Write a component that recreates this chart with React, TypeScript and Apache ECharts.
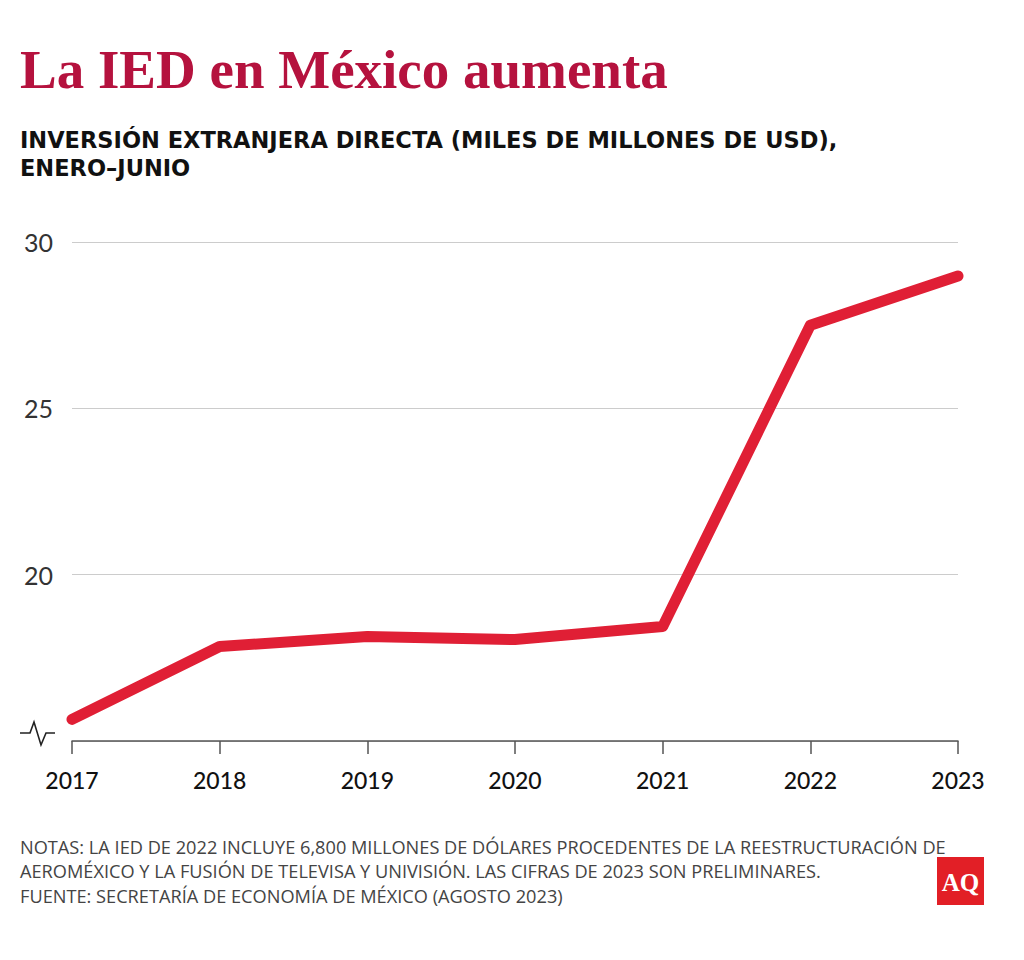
import React, { useEffect, useRef } from "react";
import * as echarts from "echarts";

const years = ["2017", "2018", "2019", "2020", "2021", "2022", "2023"];
const fdiValues = [15.65, 17.84, 18.14, 18.05, 18.44, 27.5, 28.98];
const yTicks = { min: 15, max: 30, interval: 5 };

const titleText = "La IED en México aumenta";
const subtitleLines = [
  "INVERSIÓN EXTRANJERA DIRECTA (MILES DE MILLONES DE USD),",
  "ENERO–JUNIO",
];
const noteLines = [
  "NOTAS: LA IED DE 2022 INCLUYE 6,800 MILLONES DE DÓLARES PROCEDENTES DE LA REESTRUCTURACIÓN DE",
  "AEROMÉXICO Y LA FUSIÓN DE TELEVISA Y UNIVISIÓN. LAS CIFRAS DE 2023 SON PRELIMINARES.",
];
const sourceText = "FUENTE: SECRETARÍA DE ECONOMÍA DE MÉXICO (AGOSTO 2023)";

export default function App() {
  const ref = useRef<HTMLDivElement>(null);

  useEffect(() => {
    if (!ref.current) return;
    const chart = echarts.init(ref.current, null, { renderer: "svg" });
    const notesFont = "18.2px 'Open Sans', Roboto, sans-serif";
    const footerLines = [...noteLines, sourceText];
    const footerTops = [837, 861, 886];
    chart.setOption({
      animation: false,
      backgroundColor: "#ffffff",
      grid: { left: 72, right: 66, top: 242, bottom: 219, containLabel: false },
      xAxis: {
        type: "category",
        data: years,
        boundaryGap: false,
        axisLine: { show: true, lineStyle: { color: "#555555", width: 1.5 } },
        axisTick: { show: true, length: 13, lineStyle: { color: "#555555", width: 1.5 } },
        axisLabel: {
          color: "#111111",
          fontSize: 23,
          fontWeight: 500,
          fontFamily: "Lato, sans-serif",
          margin: 27,
        },
        splitLine: { show: false },
      },
      yAxis: {
        type: "value",
        min: yTicks.min,
        max: yTicks.max,
        interval: yTicks.interval,
        axisLine: { show: false },
        axisTick: { show: false },
        axisLabel: {
          color: "#333333",
          fontSize: 25,
          fontFamily: "Lato, sans-serif",
          margin: 19,
          formatter: (v: number) => (v === yTicks.min ? "" : String(v)),
        },
        splitLine: { show: true, lineStyle: { color: "#cccccc", width: 1.2 } },
      },
      series: [
        {
          type: "line",
          data: fdiValues,
          symbol: "none",
          lineStyle: { color: "#e01f35", width: 11, cap: "round", join: "round" },
          z: 3,
        },
      ],
      graphic: [
        {
          type: "text",
          left: 20,
          top: 42,
          style: {
            text: titleText,
            fill: "#b5123e",
            font: "bold 55px 'Liberation Serif', 'DejaVu Serif', serif",
          },
        },
        ...subtitleLines.map((line, i) => ({
          type: "text",
          left: 20,
          top: 128 + i * 28,
          style: {
            text: line,
            fill: "#111111",
            font: "bold 22.5px 'DejaVu Sans', sans-serif",
          },
        })),
        ...footerLines.map((line, i) => ({
          type: "text",
          left: 20,
          top: footerTops[i],
          style: {
            text: line,
            fill: "#444444",
            font: notesFont,
            lineHeight: 20,
          },
        })),
        {
          type: "polyline",
          shape: {
            points: [
              [20, 733],
              [30, 733],
              [34, 722],
              [41, 745],
              [46, 733],
              [55, 733],
            ],
          },
          style: { stroke: "#222222", lineWidth: 1.6, fill: null },
        },
        {
          type: "rect",
          shape: { x: 937, y: 857, width: 47, height: 48 },
          style: { fill: "#e21f26" },
        },
        {
          type: "text",
          x: 960.5,
          y: 882,
          style: {
            text: "AQ",
            fill: "#ffffff",
            font: "bold 25px 'Liberation Serif', serif",
            align: "center",
            verticalAlign: "middle",
          },
        },
      ],
    });
    return () => chart.dispose();
  }, []);

  return (
    <div
      ref={ref}
      style={{ position: "absolute", left: 0, top: 0, width: 1024, height: 960 }}
    />
  );
}
